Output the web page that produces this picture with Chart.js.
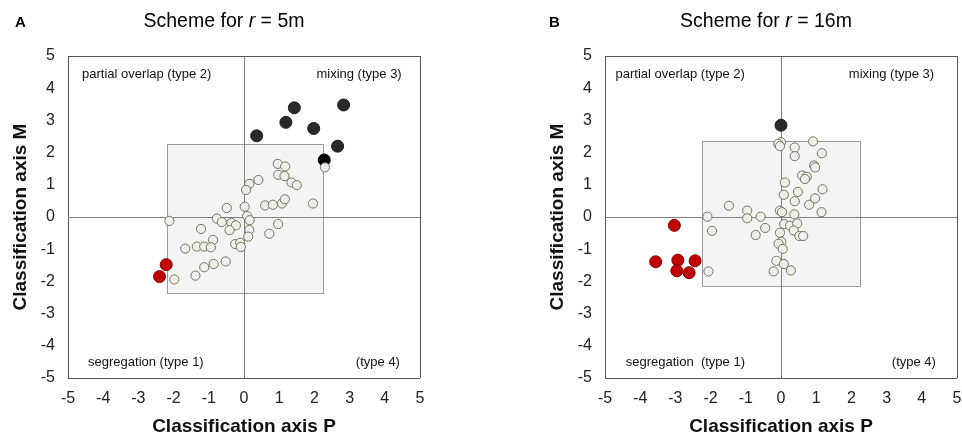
<!DOCTYPE html>
<html>
<head>
<meta charset="utf-8">
<script src="https://cdn.jsdelivr.net/npm/chart.js@4/dist/chart.umd.min.js"></script>
<style>
  body { margin: 0; background: #fff; font-family: "Liberation Sans", Arial, sans-serif; }
  #wrap { position: relative; width: 962px; height: 439px; overflow: hidden; }
  canvas { position: absolute; top: 0; }
  .panel { position: absolute; top: 13px; font-size: 15px; font-weight: bold; color: #000; }
  .head { position: absolute; top: 9px; font-size: 19.5px; color: #000; white-space: nowrap; transform: translateX(-50%); }
</style>
</head>
<body>
<div id="wrap">
  <canvas id="chartA" width="481" height="439" style="left:0"></canvas>
  <canvas id="chartB" width="510" height="439" style="left:481px"></canvas>
  <div class="panel" style="left:15px">A</div>
  <div class="head" style="left:224px">Scheme for <i>r</i> = 5m</div>
  <div class="panel" style="left:549px">B</div>
  <div class="head" style="left:766px">Scheme for <i>r</i> = 16m</div>
</div>
<script>
// ---------- Data (P, M) ----------
const AXIS_TICKS = [-5, -4, -3, -2, -1, 0, 1, 2, 3, 4, 5];

const openA = [
    [0.96, 1.65], [1.17, 1.57], [0.97, 1.31], [1.15, 1.27], [1.35, 1.07], [1.50, 0.99],
    [0.41, 1.15], [0.15, 1.03], [0.06, 0.84], [2.30, 1.54], [1.96, 0.42],
    [-0.49, 0.28], [0.02, 0.32], [0.60, 0.36], [0.82, 0.38], [1.08, 0.42], [1.16, 0.55],
    [-2.12, -0.12], [-0.77, -0.05], [-0.63, -0.16], [-0.36, -0.18], [-0.23, -0.26],
    [0.09, 0.03], [0.16, -0.10], [0.15, -0.40], [0.12, -0.61], [0.97, -0.22], [0.72, -0.52],
    [-1.22, -0.37], [-0.41, -0.41], [-0.88, -0.71], [-1.67, -0.98], [-1.34, -0.92],
    [-1.13, -0.92], [-0.94, -0.94], [-0.25, -0.84], [-0.11, -0.80], [-0.09, -0.93],
    [-0.52, -1.38], [-0.86, -1.46], [-1.13, -1.56], [-1.38, -1.82], [-1.98, -1.94]
];
const redA = [[-2.21, -1.48], [-2.40, -1.85]];
const darkA = [[0.36, 2.52], [1.19, 2.94], [1.43, 3.39], [1.98, 2.75], [2.83, 3.48], [2.66, 2.20]];
const blackA = [[2.28, 1.77]];
const boxA = { p: [-2.20, 2.24], m: [-2.37, 2.27] };

const openB = [
    [0.00, 2.32], [-0.08, 2.27], [-0.03, 2.20], [0.39, 2.16], [0.39, 1.89], [0.91, 2.35],
    [1.16, 1.98], [0.94, 1.60], [0.97, 1.54], [0.60, 1.29], [0.73, 1.25], [0.68, 1.18],
    [0.11, 1.07], [0.08, 0.69], [0.48, 0.78], [0.39, 0.49], [0.80, 0.38], [0.97, 0.58],
    [1.18, 0.86], [-1.48, 0.35],
    [-0.96, 0.20], [-0.96, -0.04], [-0.58, 0.01], [-2.09, 0.01], [-1.96, -0.43],
    [-0.45, -0.34], [-0.72, -0.56], [-0.03, 0.20], [0.03, 0.15], [1.15, 0.15],
    [0.38, 0.08], [0.09, -0.22], [0.26, -0.27], [0.46, -0.20], [0.36, -0.42],
    [0.52, -0.59], [0.63, -0.59], [-0.03, -0.49], [0.01, -0.77], [-0.07, -0.83],
    [0.05, -0.99], [-0.13, -1.36], [0.08, -1.46], [-0.21, -1.69], [0.28, -1.66], [-2.06, -1.69]
];
const redB = [[-3.03, -0.26], [-3.56, -1.39], [-2.93, -1.34], [-2.44, -1.36], [-2.96, -1.67], [-2.61, -1.73]];
const darkB = [[0.00, 2.85]];
const blackB = [];
const boxB = { p: [-2.24, 2.24], m: [-2.13, 2.36] };

// quadrant notes: text, P, M, align
const notesA = [
    ['partial overlap (type 2)', -4.6, 4.42, 'left'],
    ['mixing (type 3)', 4.48, 4.42, 'right'],
    ['segregation (type 1)', -4.43, -4.52, 'left'],
    ['(type 4)', 4.43, -4.52, 'right']
];
const notesB = [
    ['partial overlap (type 2)', -4.7, 4.42, 'left'],
    ['mixing (type 3)', 4.35, 4.42, 'right'],
    ['segregation  (type 1)', -4.41, -4.52, 'left'],
    ['(type 4)', 4.4, -4.52, 'right']
];

const FONT = '"Liberation Sans", Arial, sans-serif';
const toXY = arr => arr.map(d => ({ x: d[0], y: d[1] }));

// shaded centre box, drawn before the axes so the zero lines sit on top
const boxPlugin = {
    id: 'box',
    beforeDraw(chart, args, opts) {
        const { ctx, scales: { x, y } } = chart;
        const x0 = x.getPixelForValue(opts.p[0]), x1 = x.getPixelForValue(opts.p[1]);
        const y0 = y.getPixelForValue(opts.m[1]), y1 = y.getPixelForValue(opts.m[0]);
        ctx.save();
        ctx.fillStyle = '#f4f4f4';
        ctx.fillRect(x0, y0, x1 - x0, y1 - y0);
        ctx.strokeStyle = '#9a9a9a';
        ctx.lineWidth = 1;
        ctx.strokeRect(Math.round(x0) + 0.5, Math.round(y0) + 0.5, Math.round(x1 - x0), Math.round(y1 - y0));
        ctx.restore();
    }
};

const notesPlugin = {
    id: 'notes',
    afterDraw(chart, args, opts) {
        const { ctx, scales: { x, y } } = chart;
        ctx.save();
        ctx.font = '13px ' + FONT;
        ctx.fillStyle = '#111';
        ctx.textBaseline = 'middle';
        opts.items.forEach(n => {
            ctx.textAlign = n[3];
            ctx.fillText(n[0], x.getPixelForValue(n[1]), y.getPixelForValue(n[2]));
        });
        ctx.restore();
    }
};

function gridColor(c) {
    const v = c.tick.value;
    if (v === 0) return '#808080';
    if (Math.abs(v) === 5) return '#555';
    return 'rgba(0,0,0,0)';
}

function axis(title, isY) {
    return {
        type: 'linear', min: -5, max: 5,
        afterBuildTicks: s => { s.ticks = AXIS_TICKS.map(v => ({ value: v })); },
        afterFit: s => { if (isY) s.width = 68; else s.height = 61; },
        border: { display: false },
        grid: { color: gridColor, lineWidth: 1, drawTicks: false },
        ticks: { font: { size: 16, family: FONT }, color: '#222', padding: isY ? 13 : 11 },
        title: {
            display: true, text: title, color: '#111',
            font: { size: 19, weight: 'bold', family: FONT },
            padding: isY ? { top: 9, bottom: 0 } : { top: 0, bottom: 1 }
        }
    };
}

function makeChart(id, open, red, dark, black, box, notes, pad) {
    const ds = (data, bg, border, r) => ({ data: toXY(data), backgroundColor: bg, borderColor: border, borderWidth: 1, pointRadius: r, pointHoverRadius: r });
    return new Chart(document.getElementById(id), {
        type: 'scatter',
        data: {
            datasets: [
                ds(open, '#eeeeea', '#7a755e', 4.6),
                ds(red, '#c00000', '#8a0000', 6),
                ds(dark, '#2a2a2a', '#1a1a1a', 6),
                ds(black, '#000', '#000', 6)
            ]
        },
        options: {
            responsive: false,
            animation: false,
            devicePixelRatio: 1,
            layout: { padding: pad },
            plugins: { legend: { display: false }, tooltip: { enabled: false }, box, notes: { items: notes } },
            scales: { x: axis('Classification axis P', false), y: axis('Classification axis M', true) }
        },
        plugins: [boxPlugin, notesPlugin]
    });
}

makeChart('chartA', openA, redA, darkA, blackA, boxA, notesA, { left: 0, right: 61, top: 56, bottom: 0 });
makeChart('chartB', openB, redB, darkB, blackB, boxB, notesB, { left: 56, right: 34, top: 56, bottom: 0 });
</script>
</body>
</html>
